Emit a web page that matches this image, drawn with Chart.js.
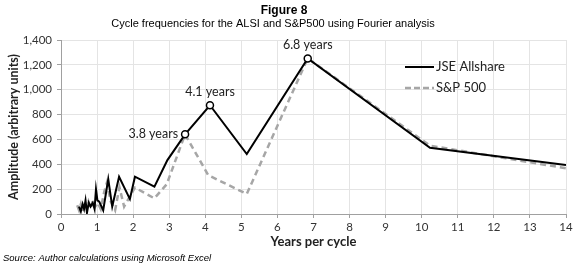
<!DOCTYPE html>
<html>
<head>
<meta charset="utf-8">
<script src="https://cdn.jsdelivr.net/npm/chart.js@4.4.1/dist/chart.umd.min.js"></script>
<style>
html,body{margin:0;padding:0;background:#fff;}
#wrap{position:relative;width:580px;height:266px;}
</style>
</head>
<body>
<div id="wrap"><canvas id="c" width="580" height="266"></canvas></div>
<script>
// ---- data ----
const jseYears = [0.5,0.55,0.6,0.64,0.68,0.72,0.77,0.82,0.88,0.93,0.97,1.01,1.06,1.17,1.31,1.42,1.61,1.91,2.05,2.59,2.95,3.44,4.13,5.15,6.84,10.23,14.0];
const jseAmp   = [60,20,80,40,110,10,90,60,90,40,200,110,100,30,280,60,300,120,300,220,434,641,875,482,1252,533,394];
const spYears  = [0.45,0.5,0.55,0.6,0.65,0.7,0.76,0.82,0.88,0.95,1.02,1.1,1.2,1.27,1.38,1.5,1.62,1.75,2.05,2.59,2.93,3.44,4.08,5.15,6.84,10.23,14.0];
const spAmp    = [70,30,80,20,90,50,100,40,110,60,90,40,180,250,100,30,215,60,212,126,239,641,313,161,1252,550,368];
const peakIdx    = [21,22,24];
const peakLabels = ["3.8 years","4.1 years","6.8 years"];
const seriesNames = ["JSE Allshare","S&P 500"];
const xTicks = [0,1,2,3,4,5,6,7,8,9,10,11,12,13,14];
const yTicks = [0,200,400,600,800,1000,1200,1400];
const titleText = "Figure 8";
const subtitleText = "Cycle frequencies for the ALSI and S&P500 using Fourier analysis";
const sourceText = "Source: Author calculations using Microsoft Excel";

const toXY = (xs, ys) => xs.map((x,i)=>({x:x, y:ys[i]}));
const radii = jseYears.map((_,i)=> peakIdx.includes(i) ? 3.5 : 0);

const deco = {
  id:'deco',
  afterDatasetsDraw(chart){
    const ctx = chart.ctx, xs = chart.scales.x, ys = chart.scales.y, ca = chart.chartArea;
    ctx.save();
    // peak labels
    ctx.fillStyle = '#222';
    ctx.font = '12.5px Lato';
    ctx.textBaseline = 'middle';
    peakIdx.forEach((idx,k)=>{
      const px = xs.getPixelForValue(jseYears[idx]);
      const py = ys.getPixelForValue(jseAmp[idx]);
      if(k===0){ ctx.textAlign='right'; ctx.fillText(peakLabels[k], px-7, py); }
      else { ctx.textAlign='center'; ctx.fillText(peakLabels[k], px, py-13); }
    });
    // legend
    const lx = ca.left + 344, ly1 = ca.top + 27, ly2 = ca.top + 48;
    ctx.lineWidth = 2; ctx.strokeStyle = '#000'; ctx.setLineDash([]);
    ctx.beginPath(); ctx.moveTo(lx, ly1); ctx.lineTo(lx+29, ly1); ctx.stroke();
    ctx.lineWidth = 2.5; ctx.strokeStyle = '#a6a6a6'; ctx.setLineDash([6,3]);
    ctx.beginPath(); ctx.moveTo(lx, ly2); ctx.lineTo(lx+29, ly2); ctx.stroke();
    ctx.setLineDash([]);
    ctx.fillStyle = '#222'; ctx.textAlign='left'; ctx.font = '13px Lato';
    ctx.fillText(seriesNames[0], lx+31, ly1);
    ctx.fillText(seriesNames[1], lx+31, ly2);
    ctx.restore();
  },
  afterDraw(chart){
    const ctx = chart.ctx;
    ctx.save();
    ctx.fillStyle = '#000';
    ctx.textBaseline = 'middle';
    ctx.textAlign = 'center';
    ctx.font = 'bold 12px "Liberation Sans"';
    ctx.fillText(titleText, 284, 11);
    ctx.font = '11px "Liberation Sans"';
    ctx.fillText(subtitleText, 273, 24);
    ctx.textAlign = 'left';
    ctx.font = 'italic 9.5px "Liberation Sans"';
    ctx.fillText(sourceText, 3, 258);
    ctx.restore();
  }
};

new Chart(document.getElementById('c'), {
  type:'line',
  data:{
    datasets:[
      {label:seriesNames[0], data:toXY(jseYears,jseAmp), borderColor:'#000', borderWidth:2,
       pointRadius:radii, pointHoverRadius:radii, pointBackgroundColor:'#fff', pointBorderColor:'#000', pointBorderWidth:1.5,
       tension:0, order:0},
      {label:seriesNames[1], data:toXY(spYears,spAmp), borderColor:'#a6a6a6', borderWidth:2.5, borderDash:[6,4],
       pointRadius:0, tension:0, order:1}
    ]
  },
  options:{
    responsive:false, animation:false, devicePixelRatio:1,
    layout:{padding:{top:40,right:14,bottom:16,left:6}},
    plugins:{legend:{display:false}, title:{display:false}, tooltip:{enabled:false}},
    scales:{
      x:{type:'linear', min:0, max:14,
         afterBuildTicks(s){ s.ticks = xTicks.map(v=>({value:v})); },
         afterFit(s){ s.height = 36; },
         grid:{color:'#e4e4e4', tickColor:'#a0a0a0', tickLength:4, drawTicks:true},
         border:{color:'#a0a0a0', width:1},
         ticks:{font:{family:'Lato', size:11.5}, color:'#333', padding:2, maxRotation:0},
         title:{display:true, text:'Years per cycle', font:{family:'Lato', size:13, weight:'bold'}, color:'#222', padding:{top:0,bottom:0}}
      },
      y:{min:0, max:1400,
         afterBuildTicks(s){ s.ticks = yTicks.map(v=>({value:v})); },
         afterFit(s){ s.width = 55; },
         grid:{color:'#e4e4e4', tickColor:'#a0a0a0', tickLength:4, drawTicks:true},
         border:{color:'#a0a0a0', width:1},
         ticks:{font:{family:'Lato', size:11.5}, color:'#333', padding:5, callback:v=>v.toLocaleString('en-US')},
         title:{display:true, text:'Amplitude (arbitrary units)', font:{family:'Lato', size:12.5, weight:'bold'}, color:'#222', padding:{top:0,bottom:0}}
      }
    }
  },
  plugins:[deco]
});
</script>
</body>
</html>
